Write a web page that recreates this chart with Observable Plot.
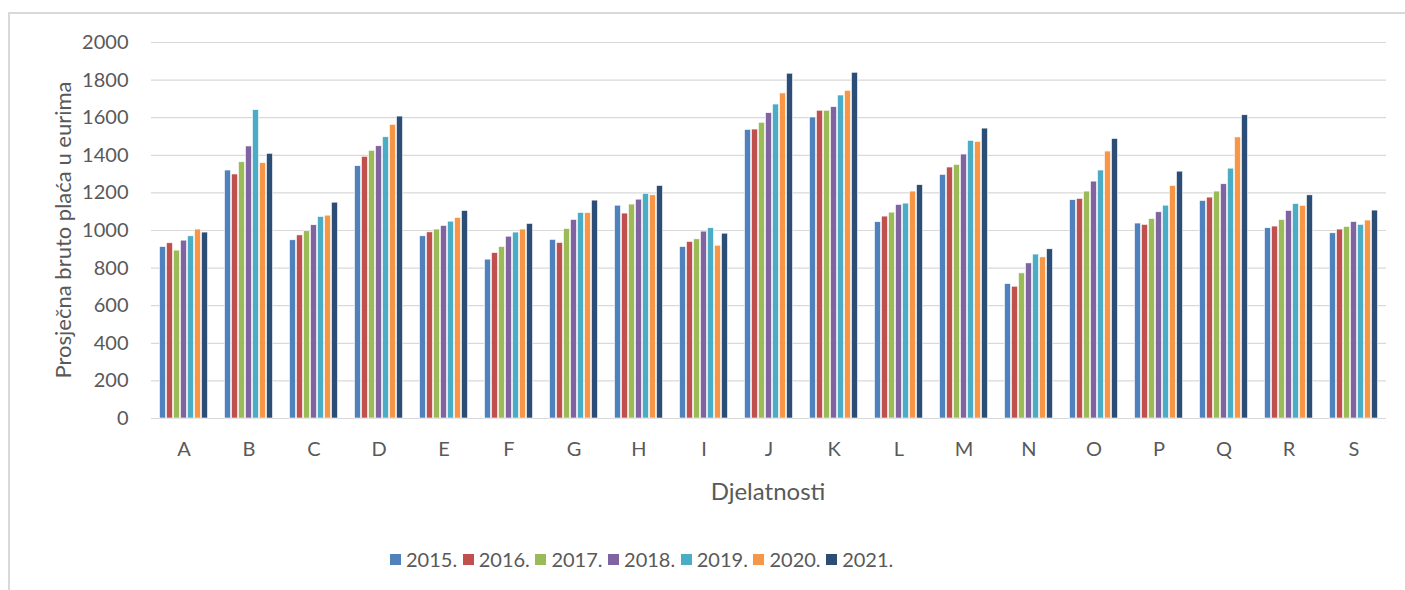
<!DOCTYPE html>
<html>
<head>
<meta charset="utf-8">
<script src="https://cdn.jsdelivr.net/npm/d3@7"></script>
<script src="https://cdn.jsdelivr.net/npm/@observablehq/plot@0.6"></script>
<style>
  html, body { margin: 0; padding: 0; background: #fff; }
  body { width: 1405px; height: 590px; position: relative; overflow: hidden; font-family: Lato, "Open Sans", sans-serif; color: #595959; }
  #frame { position: absolute; left: 8px; top: 12px; width: 1420px; height: 600px; border-left: 2px solid #d9d9d9; border-top: 2px solid #d9d9d9; box-sizing: border-box; }
  #chart { position: absolute; left: 0; top: 0; }
  #ytitle { position: absolute; left: 62px; top: 230px; transform: translate(-50%, -50%) rotate(-90deg); font-size: 22px; white-space: nowrap; }
  #xtitle { position: absolute; left: 768px; top: 490px; transform: translate(-50%, -50%); font-size: 24px; white-space: nowrap; }
  #legend { position: absolute; left: 390px; top: 547px; display: flex; font-size: 20px; }
  .item { display: flex; align-items: center; width: 72.7px; white-space: nowrap; }
  .sw { width: 11px; height: 11px; margin-right: 5px; flex: none; }
</style>
</head>
<body>
<div id="frame"></div>
<div id="chart"></div>
<div id="ytitle">Prosječna bruto plaća u eurima</div>
<div id="xtitle">Djelatnosti</div>
<div id="legend"></div>
<script>
const categories = ["A","B","C","D","E","F","G","H","I","J","K","L","M","N","O","P","Q","R","S"];
const years = ["2015.","2016.","2017.","2018.","2019.","2020.","2021."];
const colors = ["#4F81BD","#C0504D","#9BBB59","#8064A2","#4BACC6","#F79646","#2C4D75"];
const yTicks = [0,200,400,600,800,1000,1200,1400,1600,1800,2000];

const v2015 = [912,1319,948,1342,969,845,950,1132,912,1535,1601,1044,1296,715,1161,1037,1157,1012,985];
const v2016 = [932,1298,974,1392,990,880,934,1090,939,1537,1637,1074,1335,701,1168,1030,1175,1021,1005];
const v2017 = [893,1363,996,1424,1005,912,1008,1138,953,1573,1637,1095,1349,772,1207,1061,1207,1056,1019];
const v2018 = [946,1447,1028,1448,1024,967,1056,1164,994,1624,1656,1136,1404,825,1260,1097,1246,1104,1045];
const v2019 = [969,1640,1072,1496,1047,989,1093,1195,1012,1670,1718,1143,1477,872,1319,1132,1329,1141,1030];
const v2020 = [1005,1358,1079,1562,1067,1005,1093,1187,919,1729,1743,1207,1471,857,1420,1237,1495,1131,1053];
const v2021 = [989,1408,1148,1606,1104,1035,1159,1237,983,1834,1839,1241,1542,900,1487,1313,1613,1187,1106];

const series = [v2015, v2016, v2017, v2018, v2019, v2020, v2021];
const data = [];
categories.forEach((c, i) => {
  years.forEach((y, j) => data.push({cat: c, year: y, value: series[j][i]}));
});

const chart = Plot.plot({
  width: 1405,
  height: 510,
  marginLeft: 146.5,
  marginRight: 14.5,
  marginTop: 42,
  marginBottom: 92,
  style: {fontSize: "20px", fontFamily: "Lato, 'Open Sans', sans-serif", color: "#595959", background: "transparent"},
  fx: {domain: categories, padding: 0, paddingInner: 0, paddingOuter: 0, axis: "bottom", tickSize: 0, tickPadding: 23, label: null},
  x: {domain: years, paddingInner: 0.1, paddingOuter: 0.89, axis: null},
  y: {domain: [0, 2000], ticks: yTicks, tickSize: 0, tickPadding: 23, tickFormat: "d", label: null},
  color: {domain: years, range: colors},
  marks: [
    Plot.ruleY(yTicks, {stroke: "#d9d9d9", strokeWidth: 1.2}),
    Plot.barY(data, {fx: "cat", x: "year", y: "value", fill: "year", stroke: "white", strokeWidth: 0.6})
  ]
});
document.getElementById("chart").appendChild(chart);

const legend = document.getElementById("legend");
years.forEach((y, j) => {
  const item = document.createElement("div");
  item.className = "item";
  const sw = document.createElement("div");
  sw.className = "sw";
  sw.style.background = colors[j];
  const t = document.createElement("span");
  t.textContent = y;
  item.appendChild(sw);
  item.appendChild(t);
  legend.appendChild(item);
});
</script>
</body>
</html>
